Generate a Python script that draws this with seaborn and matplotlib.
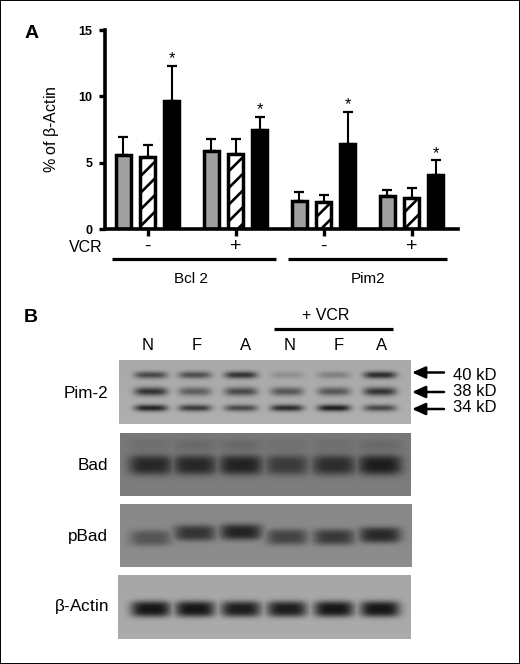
import numpy as np
import pandas as pd
import matplotlib
matplotlib.use("Agg")
import matplotlib.pyplot as plt
import seaborn as sns

# Panel A data
groups = ["Bcl 2 -", "Bcl 2 +", "Pim2 -", "Pim2 +"]
vcr_labels = ["-", "+", "-", "+"]
conditions = ["N", "F", "A"]
means_n = [5.6, 5.85, 2.1, 2.45]
means_f = [5.45, 5.65, 2.05, 2.35]
means_a = [9.65, 7.5, 6.4, 4.05]
errs_n = [1.3, 0.9, 0.7, 0.5]
errs_f = [0.9, 1.1, 0.5, 0.75]
errs_a = [2.65, 0.95, 2.45, 1.15]
stars = [False, False, True, False, False, True, False, False, True, False, False, True]

# Panel B band darkness per lane (0 = background, 1 = darkest)
lane_names = ["N", "F", "A", "N", "F", "A"]
pim2_40 = [0.7, 0.65, 0.85, 0.2, 0.3, 0.9]
pim2_38 = [0.85, 0.55, 0.7, 0.6, 0.6, 0.85]
pim2_34 = [0.95, 0.8, 0.7, 0.9, 1.0, 0.7]
bad_ghost = [0.1, 0.15, 0.15, 0.08, 0.1, 0.15]
bad_band = [0.85, 0.85, 0.9, 0.65, 0.8, 0.95]
pbad_band = [0.5, 0.8, 0.95, 0.65, 0.75, 0.9]
actin_band = [1.0, 1.0, 0.95, 0.95, 1.0, 1.0]

plt.rcParams["font.family"] = ["Liberation Sans", "DejaVu Sans"]
plt.rcParams["hatch.linewidth"] = 1.9

W, H = 520, 664
fig = plt.figure(figsize=(W / 100, H / 100), dpi=100, facecolor="white")

# overlay in pixel coordinates for the blots and labels
page = fig.add_axes([0, 0, 1, 1])
page.set_xlim(0, W)
page.set_ylim(H, 0)

ax = fig.add_axes([104.5 / W, 1 - 229 / H, (458 - 104.5) / W, 199 / H])
ax.patch.set_alpha(0)

df = pd.DataFrame({
    "group": groups * 3,
    "condition": np.repeat(conditions, 4),
    "value": means_n + means_f + means_a,
    "err": errs_n + errs_f + errs_a,
})
sns.barplot(
    data=df, x="group", y="value", hue="condition", order=groups, hue_order=conditions,
    palette=["#a0a0a0", "white", "black"], width=0.82, gap=0.36, errorbar=None,
    edgecolor="black", linewidth=2.5, legend=False, ax=ax,
)

xs, tops = [], []
for cont, cond in zip(ax.containers, conditions):
    for patch, g in zip(cont.patches, groups):
        if cond == "F":
            patch.set_hatch("//")
        val = df[(df.group == g) & (df.condition == cond)].iloc[0]
        xc = patch.get_x() + patch.get_width() / 2
        xs.append(xc)
        tops.append(val["value"] + val["err"])
        ax.errorbar(xc, val["value"], yerr=[[0], [val["err"]]], color="black",
                    elinewidth=1.5, capsize=3.8, capthick=1.6, zorder=1)

# stars are listed by bar, left to right
order = np.argsort(xs)
for k, i in enumerate(order):
    if stars[k]:
        ax.text(xs[i], tops[i] - 0.05, "*", ha="center", va="bottom", fontsize=12)

ax.set_xlim(-0.489, 3.528)
ax.set_ylim(0, 15)
ax.set_yticks([0, 5, 10, 15])
ax.set_xticks(range(4))
ax.set_xticklabels(vcr_labels, fontsize=14)
ax.set_xlabel("")
ax.set_ylabel(r"% of $\mathregular{\beta}$-Actin", fontsize=11.5, labelpad=13)
ax.tick_params(axis="y", width=2.4, length=4.5, labelsize=9, pad=4)
ax.tick_params(axis="x", width=2.4, length=5, pad=1.5)
for lab in ax.get_yticklabels():
    lab.set_fontweight("bold")
sns.despine(ax=ax)
ax.spines["left"].set_linewidth(2.6)
ax.spines["bottom"].set_linewidth(2.6)


def draw_blot(x0, x1, y0, y1, bg, band_rows, lane_x, lane_w, dy=None, max_dark=20, sharp=2):
    """Paint one blot panel as a grey image from band darkness lists"""
    yy, xx = np.mgrid[y0:y1, x0:x1] + 0.5
    img = np.full(xx.shape, float(bg))
    # soft vertical shading so the panel is not flat
    img += 6 * ((yy - y0) / (y1 - y0) - 0.5)
    for row_y, band_h, strengths in band_rows:
        dark = np.zeros(xx.shape)
        for i, s in enumerate(strengths):
            shift = 0 if dy is None else dy[i]
            px = np.exp(-np.abs((xx - lane_x[i]) / lane_w) ** 4)
            py = np.exp(-np.abs((yy - row_y - shift) / band_h) ** sharp)
            dark = np.maximum(dark, s * px * py)
        img = img * (1 - dark) + max_dark * dark
    page.imshow(img, extent=(x0, x1, y1, y0), cmap="gray", vmin=0, vmax=255,
                interpolation="bilinear", aspect="auto", zorder=1)


lanes = [151, 195, 241, 287, 334, 380]
draw_blot(119, 411, 360, 424, 172, [(375, 3.6, pim2_40), (391.5, 4.3, pim2_38), (408, 3.4, pim2_34)],
          lanes, 16.5, max_dark=30)
draw_blot(120, 411, 433, 496, 122, [(445, 6, bad_ghost), (465, 10, bad_band)],
          lanes, 22, max_dark=24, sharp=3)
draw_blot(120, 412, 504, 567, 138, [(537, 8, pbad_band)],
          lanes, 21, dy=[1, -4, -5, 0, 0, -2], max_dark=30, sharp=3)
draw_blot(118, 411, 575, 639, 168, [(609, 8, actin_band)],
          lanes, 20, max_dark=22, sharp=3)
page.set_xlim(0, W)
page.set_ylim(H, 0)

# brackets under panel A and over panel B
for x0, x1, y in [(112, 276, 259), (288, 447, 259), (274, 393, 329)]:
    page.plot([x0, x1], [y, y], color="black", lw=2.3, solid_capstyle="butt", zorder=3)

page.text(25, 34, "A", fontsize=14, fontweight="bold", ha="left", va="center")
page.text(24, 318, "B", fontsize=14, fontweight="bold", ha="left", va="center")
page.text(86, 248, "VCR", fontsize=11.5, ha="center", va="center")
page.text(191, 279, "Bcl 2", fontsize=11, ha="center", va="center")
page.text(368, 279, "Pim2", fontsize=11, ha="center", va="center")
page.text(326, 316, "+ VCR", fontsize=11.5, ha="center", va="center")

for name, x in zip(lane_names, [148, 197, 246, 290, 339, 382]):
    page.text(x, 346, name, fontsize=12, ha="center", va="center")

for name, y in zip(["Pim-2", "Bad", "pBad", r"$\mathregular{\beta}$-Actin"], [393, 465, 537, 606]):
    page.text(108, y, name, fontsize=12.3, ha="right", va="center")

for name, y, ya in zip(["40 kD", "38 kD", "34 kD"], [375, 392, 408], [372.5, 392, 409]):
    page.annotate("", xy=(412, ya), xytext=(444, ya), zorder=3,
                  arrowprops=dict(arrowstyle="-|>,head_width=0.36,head_length=0.8", color="black", lw=1.8, shrinkA=0, shrinkB=0))
    page.text(453, y, name, fontsize=12, ha="left", va="center")

# outer frame of the figure
page.set_xticks([])
page.set_yticks([])
for spine in page.spines.values():
    spine.set_linewidth(1.4)
page.patch.set_alpha(0)

fig.savefig("out.png", dpi=100)
